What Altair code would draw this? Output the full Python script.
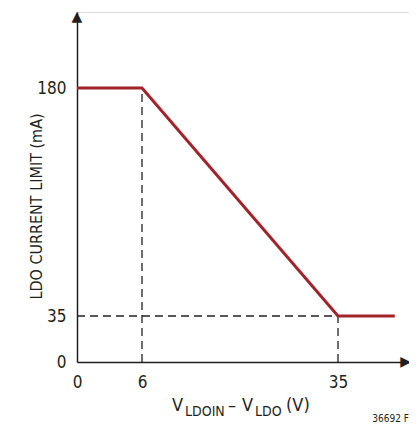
import altair as alt
import pandas as pd

# data
limit_x = [0, 6, 35, 43]
limit_y = [180, 180, 35, 35]
x_ticks = [0, 6, 35]
y_ticks = [0, 35, 180]
x_domain = [0, 6, 35, 45]
y_domain = [0, 35, 180, 228]

FONT = "DejaVu Sans Condensed, sans-serif"
RED = "#a3232a"
INK = "#231f20"

W, H = 332, 350
xs = alt.Scale(domain=x_domain, range=[0, 65, 261, W], nice=False, zero=False)
ys = alt.Scale(domain=y_domain, range=[H, 304, 76, 0], nice=False, zero=False)

line_df = pd.DataFrame({"x": limit_x, "y": limit_y})
guides_df = pd.DataFrame({
    "x": [0, 6, 35],
    "x2": [35, 6, 35],
    "y": [35, 0, 0],
    "y2": [35, 180, 35],
})

xaxis = alt.Axis(values=x_ticks, ticks=False, grid=False, domainColor=INK, domainWidth=1.5,
                 labelFont=FONT, labelFontSize=17, labelColor=INK, labelPadding=12,
                 labelFlush=False, title=None)
yaxis = alt.Axis(values=y_ticks, ticks=False, grid=False, domainColor=INK, domainWidth=1.5,
                 labelFont=FONT, labelFontSize=17, labelColor=INK, labelPadding=11,
                 title="LDO CURRENT LIMIT (mA)", titleFont=FONT, titleFontSize=16,
                 titleFontWeight="normal", titleColor=INK, titleX=-41, titleY=194,
                 titleAngle=-90, titleAlign="center", titleBaseline="middle")

limit_line = alt.Chart(line_df).mark_line(color=RED, strokeWidth=3).encode(
    x=alt.X("x:Q", scale=xs, axis=xaxis),
    y=alt.Y("y:Q", scale=ys, axis=yaxis),
)

guides = alt.Chart(guides_df).mark_rule(color=INK, strokeWidth=1.3, strokeDash=[8, 5]).encode(
    x=alt.X("x:Q", scale=xs), x2="x2:Q", y=alt.Y("y:Q", scale=ys), y2="y2:Q"
)

arrow_up = alt.Chart(pd.DataFrame({"x": [0], "y": [y_domain[-1]], "t": ["▲"]})).mark_text(
    font="DejaVu Sans", fontSize=14, color=INK, align="center", baseline="top", dy=-2
).encode(x=alt.X("x:Q", scale=xs), y=alt.Y("y:Q", scale=ys), text="t:N")

arrow_right = alt.Chart(pd.DataFrame({"x": [x_domain[-1]], "y": [0], "t": ["▶"]})).mark_text(
    font="DejaVu Sans", fontSize=14, color=INK, align="right", baseline="middle", dy=0, dx=2
).encode(x=alt.X("x:Q", scale=xs), y=alt.Y("y:Q", scale=ys), text="t:N")

def txt(s, x, y, size, align="left"):
    return alt.Chart(pd.DataFrame({"t": [s]})).mark_text(
        font=FONT, fontSize=size, color=INK, align=align, baseline="alphabetic"
    ).encode(text="t:N", x=alt.value(x), y=alt.value(y))

title_parts = [
    txt("V", 95, 399, 18),
    txt("LDOIN", 108, 404, 14),
    txt("–", 151, 399, 18),
    txt("V", 165, 399, 18),
    txt("LDO", 178, 404, 14),
    txt("(V)", 209, 399, 18),
    txt("36692 F", W, 410, 10, align="right"),
]

chart = alt.layer(guides, limit_line, arrow_up, arrow_right, *title_parts).properties(
    width=W, height=H,
    padding={"left": 69, "top": 4, "right": 0, "bottom": 67},
    autosize=alt.AutoSizeParams(type="none"),
).configure_view(stroke=None).configure(background="white")

chart.save("out.html", embed_options={"renderer": "svg", "actions": False})
